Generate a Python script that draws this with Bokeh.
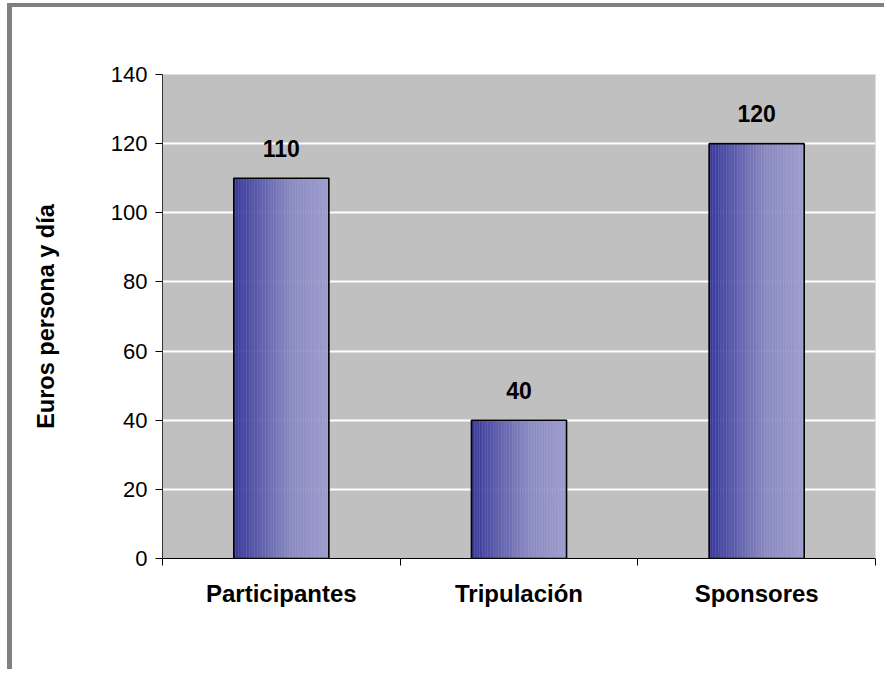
from bokeh.plotting import figure
from bokeh.models import Range1d, FixedTicker, ColumnDataSource
from bokeh.embed import file_html
from bokeh.resources import INLINE
from bokeh.core.properties import value

categories = ["Participantes", "Tripulación", "Sponsores"]
values = [110, 40, 120]
y_ticks = [0, 20, 40, 60, 80, 100, 120, 140]

FONT = "Liberation Sans"
BAR_W = 0.4
N_STRIPS = 60

p = figure(width=877, height=666, output_backend="svg", toolbar_location=None,
           x_range=Range1d(0, len(categories)), y_range=Range1d(0, 140),
           min_border_left=150, min_border_top=67, min_border_right=14,
           min_border_bottom=115)
p.margin = (3, 0, 0, 7)
p.styles = {"border-left": "5px solid #808080", "border-top": "4px solid #808080"}
p.background_fill_color = "#C0C0C0"
p.border_fill_color = "white"
p.outline_line_color = None

# grid
p.xgrid.grid_line_color = None
p.ygrid.grid_line_color = "white"
p.ygrid.grid_line_width = 2
p.ygrid.ticker = FixedTicker(ticks=y_ticks)

# gradient bars drawn as thin vertical strips
stops = [(0.0, (54, 54, 155)), (0.6, (138, 138, 195)), (1.0, (156, 156, 208))]
def grad(t):
    for (t0, c0), (t1, c1) in zip(stops[:-1], stops[1:]):
        if t <= t1:
            f = (t - t0) / (t1 - t0)
            return "#%02x%02x%02x" % tuple(int(round(a + (b - a) * f)) for a, b in zip(c0, c1))
    return "#%02x%02x%02x" % stops[-1][1]

sx, st, sc = [], [], []
sw = BAR_W / N_STRIPS
for i, v in enumerate(values):
    for k in range(N_STRIPS):
        t = (k + 0.5) / N_STRIPS
        sx.append(i + 0.5 - BAR_W / 2 + (k + 0.5) * sw)
        st.append(v)
        sc.append(grad(t))
p.vbar(x=sx, top=st, bottom=0, width=sw * 1.1, fill_color=sc, line_color=None)

centers = [i + 0.5 for i in range(len(categories))]
src = ColumnDataSource(dict(x=centers, top=values, lab=[str(v) for v in values]))
p.vbar(x="x", top="top", bottom=0, width=BAR_W, source=src, fill_color=None,
       line_color="black", line_width=1.6)

p.text(x="x", y="top", text="lab", source=src, text_align="center",
       text_baseline="alphabetic", y_offset=-30, text_font=value(FONT),
       text_font_size="23px", text_font_style="bold", text_color="black")

# y axis
ya = p.yaxis[0]
ya.ticker = FixedTicker(ticks=y_ticks)
ya.axis_label = "Euros persona y día"
ya.axis_label_text_font = FONT
ya.axis_label_text_font_size = "23.5px"
ya.axis_label_text_font_style = "bold"
ya.axis_label_text_color = "black"
ya.axis_label_standoff = 49
ya.major_label_text_font = FONT
ya.major_label_text_font_size = "22px"
ya.major_label_text_color = "black"
ya.major_label_standoff = 8
ya.major_tick_out = 7
ya.major_tick_in = 0
ya.minor_tick_line_color = None
ya.axis_line_color = "#333333"
ya.major_tick_line_color = "black"

# x axis: labels at centers, ticks at category boundaries
xa = p.xaxis[0]
xa.ticker = FixedTicker(ticks=centers, minor_ticks=list(range(len(categories) + 1)))
xa.major_label_overrides = {c: cat for c, cat in zip(centers, categories)}
xa.major_label_text_font = FONT
xa.major_label_text_font_size = "24px"
xa.major_label_text_font_style = "bold"
xa.major_label_text_color = "black"
xa.major_label_standoff = 14
xa.major_tick_line_color = None
xa.major_tick_out = 7
xa.major_tick_in = 0
xa.minor_tick_out = 7
xa.minor_tick_in = 0
xa.minor_tick_line_color = "black"
xa.axis_line_color = "black"

open("out.html", "w").write(file_html(p, INLINE))
